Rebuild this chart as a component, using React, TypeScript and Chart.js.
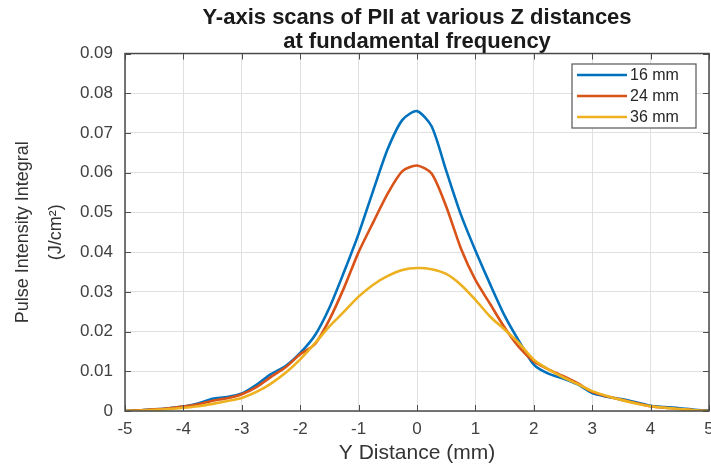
import React, { useEffect, useRef } from "react";
import { Chart, registerables } from "chart.js";

Chart.register(...registerables);

const yDistance = [
  -5, -4.75, -4.5, -4.25, -4, -3.75, -3.5, -3.25, -3, -2.75, -2.5, -2.25, -2, -1.75, -1.5, -1.25, -1, -0.75, -0.5, -0.25,
  0, 0.25, 0.5, 0.75, 1, 1.25, 1.5, 1.75, 2, 2.25, 2.5, 2.75, 3, 3.25, 3.5, 3.75, 4, 4.25, 4.5, 4.75, 5,
];

const pii16mm = [
  0, 0.0002, 0.0004, 0.0007, 0.0011, 0.0019, 0.0031, 0.0035, 0.0044, 0.0066, 0.0093, 0.0113, 0.0146, 0.019, 0.026,
  0.035, 0.0446, 0.0555, 0.066, 0.0733, 0.0755, 0.0717, 0.0605, 0.0495, 0.0404, 0.032, 0.024, 0.0175, 0.0117, 0.0094,
  0.0082, 0.0067, 0.0045, 0.0036, 0.003, 0.0022, 0.0013, 0.001, 0.0007, 0.0003, 0.0001,
];

const pii24mm = [
  0, 0.0002, 0.0004, 0.0007, 0.0011, 0.0017, 0.0026, 0.0032, 0.0042, 0.006, 0.0086, 0.011, 0.0143, 0.0168, 0.023,
  0.031, 0.04, 0.0475, 0.0548, 0.0604, 0.0618, 0.0598, 0.0515, 0.041, 0.033, 0.027, 0.021, 0.016, 0.0125, 0.0105,
  0.0088, 0.007, 0.0048, 0.0037, 0.0028, 0.002, 0.0012, 0.0008, 0.0005, 0.0002, 0,
];

const pii36mm = [
  0, 0.0001, 0.0003, 0.0005, 0.0008, 0.0012, 0.0018, 0.0025, 0.0033, 0.0048, 0.0069, 0.0096, 0.013, 0.017, 0.0213,
  0.025, 0.0288, 0.0318, 0.034, 0.0355, 0.036, 0.0357, 0.0345, 0.0318, 0.028, 0.0238, 0.0205, 0.017, 0.0129, 0.0105,
  0.0085, 0.0068, 0.005, 0.0038, 0.0028, 0.0019, 0.0012, 0.0008, 0.0005, 0.0002, 0,
];

const seriesLabels = ["16 mm", "24 mm", "36 mm"];
const seriesColors = ["#0072BD", "#D95319", "#EDB120"];
const seriesValues = [pii16mm, pii24mm, pii36mm];

const titleLines = ["Y-axis scans of PII at various Z distances", "at fundamental frequency"];
const xTitle = "Y Distance (mm)";
const yTitleLines = ["Pulse Intensity Integral", "(J/cm\u00B2)"];

const FONT = "'Liberation Sans', Arial, Helvetica, sans-serif";

const framePlugin = {
  id: "matlabFrame",
  afterDatasetsDraw(chart: any) {
    const { ctx, chartArea, scales } = chart;
    const { left, right, top, bottom } = chartArea;
    const xs = scales.x;
    const ys = scales.y;
    ctx.save();
    ctx.strokeStyle = "#4d4d4d";
    ctx.lineWidth = 1;
    const tl = 6;
    ctx.beginPath();
    xs.ticks.forEach((t: any) => {
      const px = Math.round(xs.getPixelForValue(t.value)) + 0.5;
      ctx.moveTo(px, bottom);
      ctx.lineTo(px, bottom - tl);
      ctx.moveTo(px, top);
      ctx.lineTo(px, top + tl);
    });
    ys.ticks.forEach((t: any) => {
      const py = Math.round(ys.getPixelForValue(t.value)) + 0.5;
      ctx.moveTo(left, py);
      ctx.lineTo(left + tl, py);
      ctx.moveTo(right, py);
      ctx.lineTo(right - tl, py);
    });
    ctx.stroke();
    ctx.lineWidth = 1.5;
    ctx.strokeStyle = "#4a4a4a";
    ctx.strokeRect(left, top, right - left, bottom - top);

    // legend
    const bx = 572;
    const by = 64;
    const bw = 124;
    const bh = 64;
    ctx.fillStyle = "#ffffff";
    ctx.fillRect(bx, by, bw, bh);
    ctx.lineWidth = 1.2;
    ctx.strokeStyle = "#555555";
    ctx.strokeRect(bx, by, bw, bh);
    ctx.font = `16px ${FONT}`;
    ctx.textBaseline = "middle";
    ctx.textAlign = "left";
    chart.data.datasets.forEach((ds: any, i: number) => {
      const cy = by + 11 + i * 21;
      ctx.strokeStyle = ds.borderColor;
      ctx.lineWidth = 2.5;
      ctx.beginPath();
      ctx.moveTo(bx + 5, cy);
      ctx.lineTo(bx + 55, cy);
      ctx.stroke();
      ctx.fillStyle = "#262626";
      ctx.fillText(ds.label, bx + 58, cy + 1);
    });
    ctx.restore();
  },
};

export default function App() {
  const canvasRef = useRef<HTMLCanvasElement | null>(null);

  useEffect(() => {
    document.body.style.margin = "0";
    const canvas = canvasRef.current;
    if (!canvas) return;
    const datasets = seriesValues.map((vals, i) => ({
      label: seriesLabels[i],
      data: vals.map((v, j) => ({ x: yDistance[j], y: v })),
      borderColor: seriesColors[i],
      backgroundColor: seriesColors[i],
      borderWidth: 2.6,
      pointRadius: 0,
      tension: 0.25,
      fill: false,
      order: 2 - i,
    }));
    const chart = new Chart(canvas, {
      type: "line",
      data: { datasets },
      options: {
        animation: false,
        responsive: false,
        maintainAspectRatio: false,
        layout: { padding: { left: 0, right: 2, top: 0, bottom: 0 } },
        plugins: {
          legend: { display: false },
          tooltip: { enabled: false },
          title: {
            display: true,
            text: titleLines,
            fullSize: false,
            color: "#1a1a1a",
            font: { family: FONT, size: 22, weight: "bold", lineHeight: 1.08 },
            padding: { top: 6, bottom: 0 },
          },
        },
        scales: {
          x: {
            type: "linear",
            min: -5,
            max: 5,
            ticks: {
              stepSize: 1,
              color: "#404040",
              font: { family: FONT, size: 17 },
              padding: 8,
              maxRotation: 0,
              callback: (v: any) => String(v),
            },
            grid: { color: "#e0e0e0", lineWidth: 1, drawTicks: false },
            border: { display: false },
            title: {
              display: true,
              text: xTitle,
              color: "#333333",
              font: { family: FONT, size: 21, lineHeight: 1.2 },
              padding: { top: 0, bottom: 4 },
            },
            afterFit: (s: any) => {
              s.height = 59;
              s.paddingLeft = 0;
              s.paddingRight = 0;
            },
          },
          y: {
            type: "linear",
            min: 0,
            max: 0.09,
            ticks: {
              stepSize: 0.01,
              color: "#404040",
              font: { family: FONT, size: 17 },
              padding: 12,
              callback: (v: any) => (Math.abs(v) < 1e-9 ? "0" : Number(v).toFixed(2)),
            },
            grid: { color: "#e0e0e0", lineWidth: 1, drawTicks: false },
            border: { display: false },
            title: {
              display: true,
              text: yTitleLines,
              color: "#333333",
              font: { family: FONT, size: 18, lineHeight: 1.8 },
              padding: { top: 7, bottom: 0 },
            },
            afterFit: (s: any) => {
              s.width = 125;
              s.paddingTop = 0;
              s.paddingBottom = 0;
            },
          },
        },
      },
      plugins: [framePlugin],
    });
    return () => chart.destroy();
  }, []);

  return (
    <div style={{ width: 711, height: 470, background: "#ffffff" }}>
      <canvas ref={canvasRef} width={711} height={470} style={{ display: "block" }} />
    </div>
  );
}
